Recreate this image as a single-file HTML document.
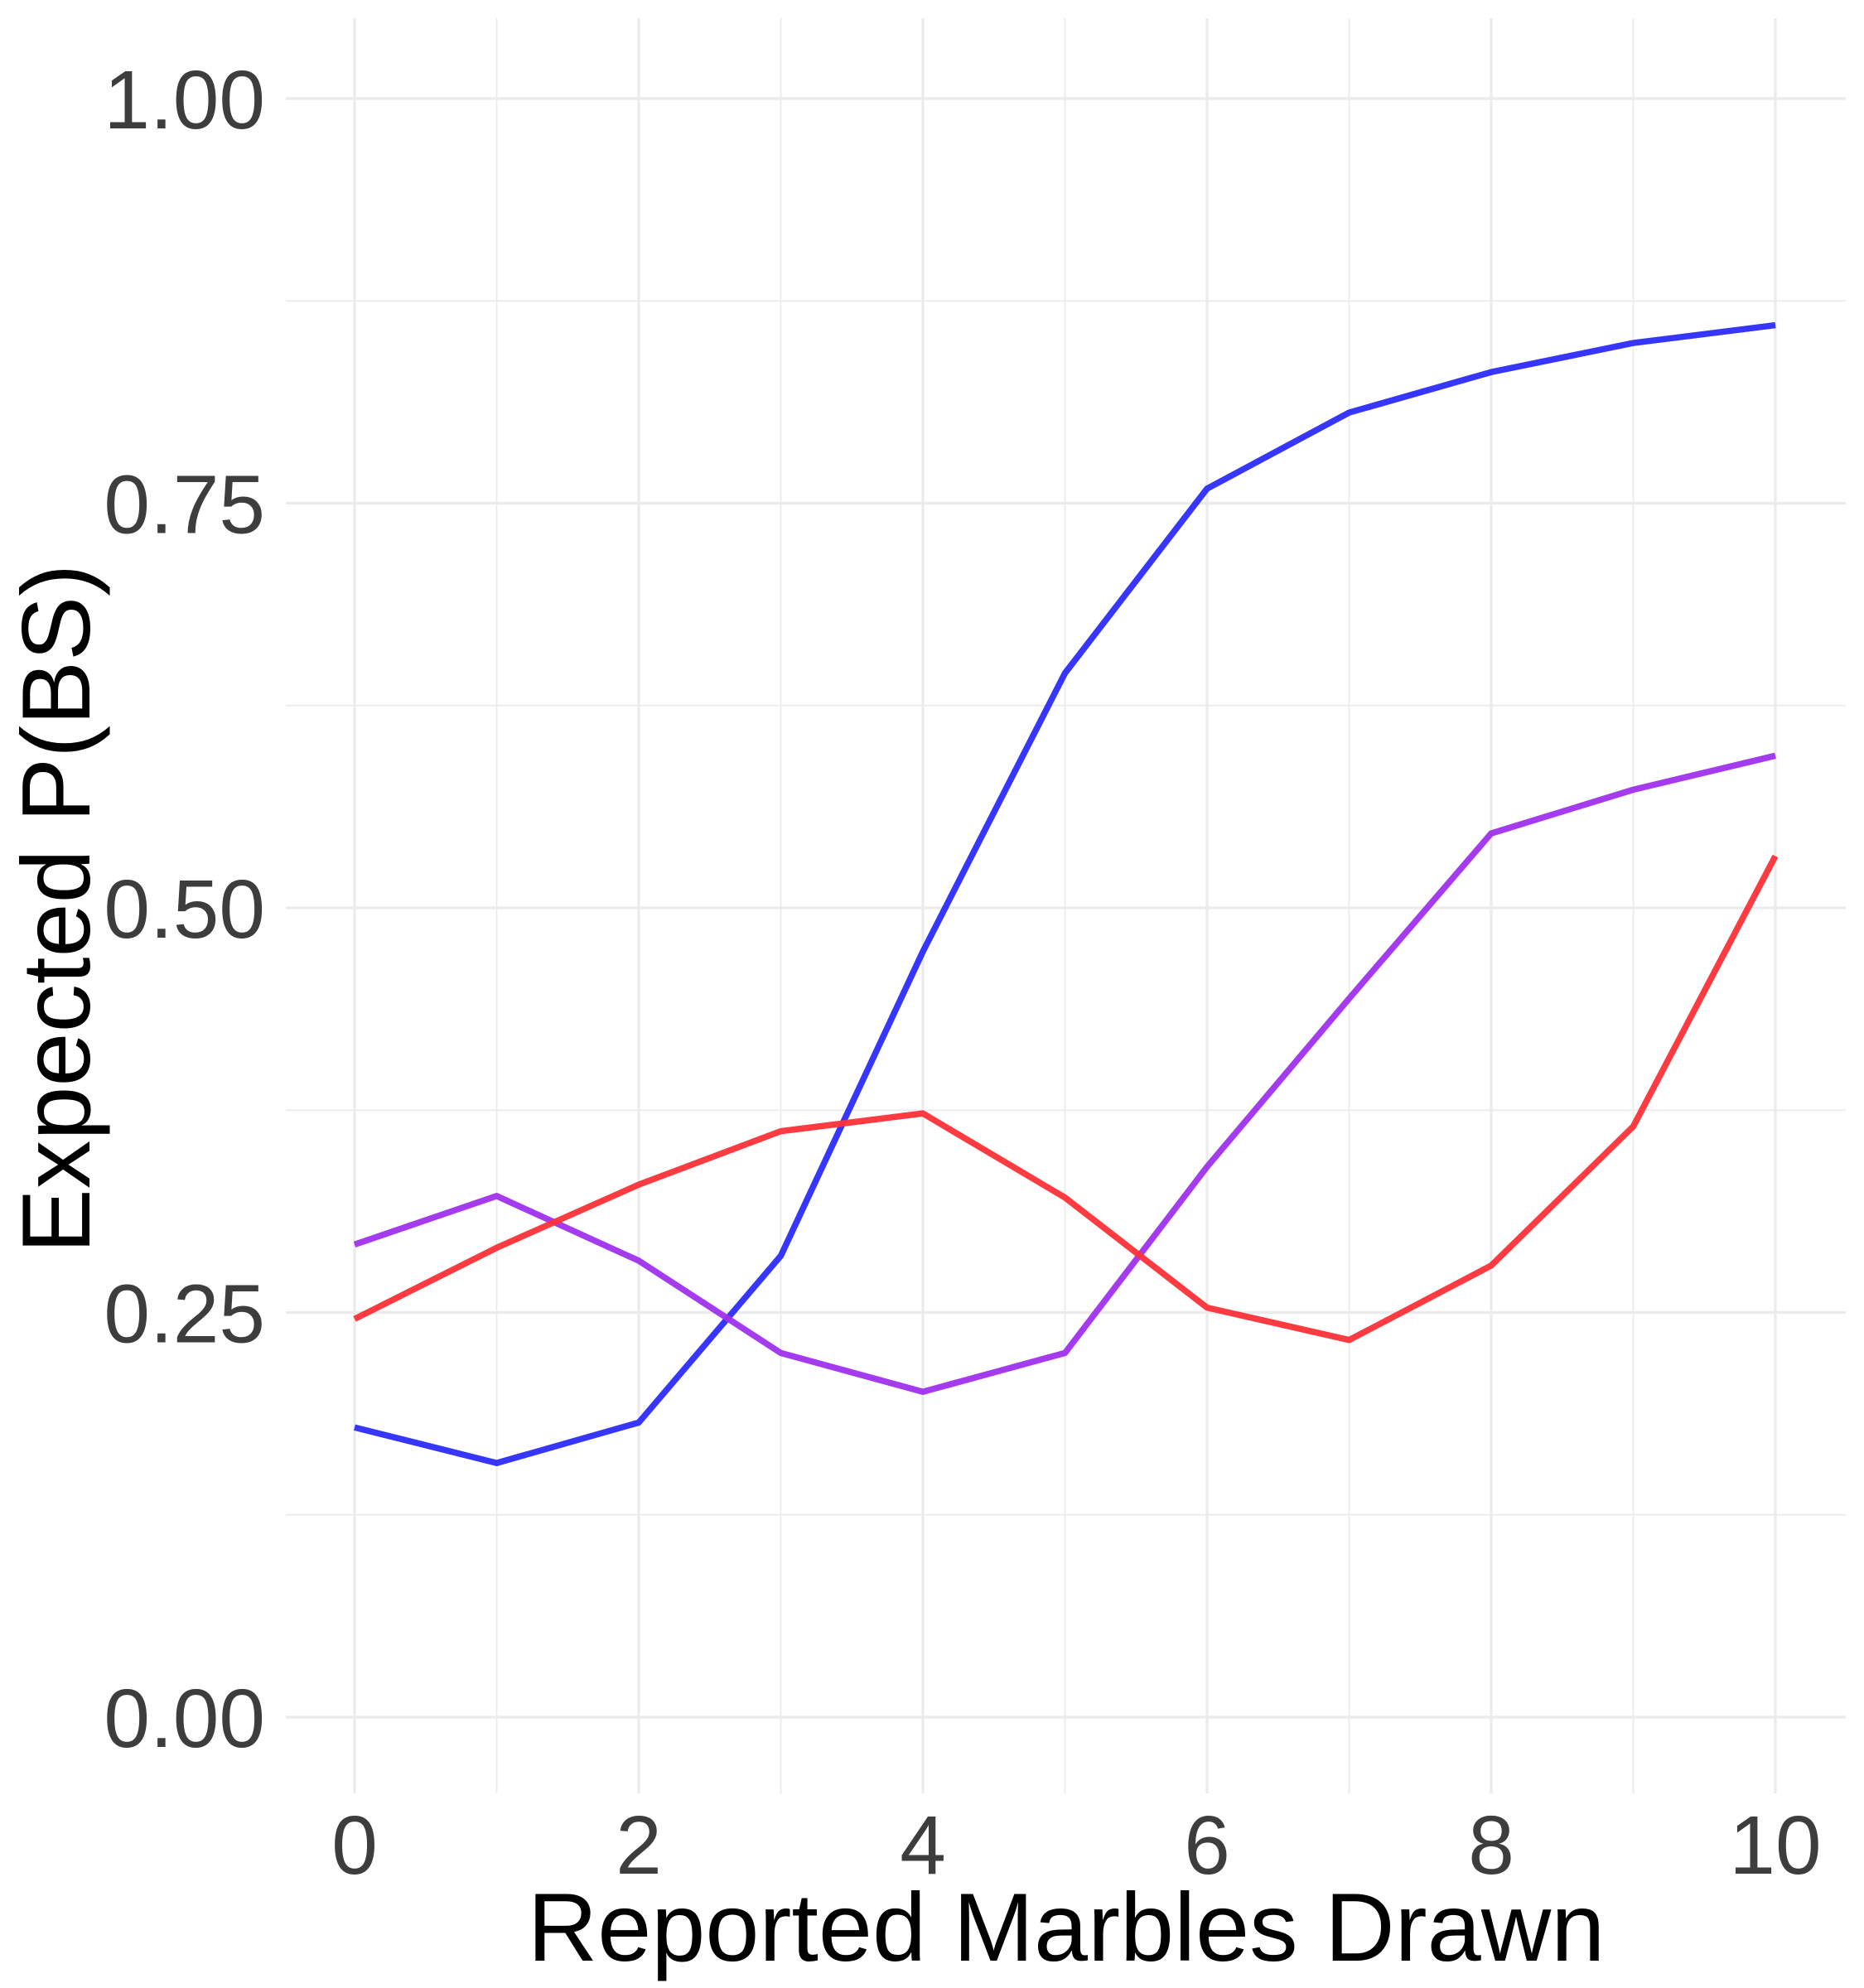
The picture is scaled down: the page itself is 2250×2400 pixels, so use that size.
<!DOCTYPE html>
<html><head><meta charset="utf-8"><style>
html,body{margin:0;padding:0;background:#fff;}
svg{display:block;font-family:"Liberation Sans",sans-serif;}
</style></head><body>
<svg id="chart" width="2250" height="2400" viewBox="0 0 2250 2400">
<g id="grid"></g>
<g id="series"></g>
<g id="yticks"></g>
<g id="xticks"></g>
<text x="1287" y="2367" font-size="117" text-anchor="middle" fill="#000">Reported Marbles Drawn</text>
<text transform="translate(108,1097) rotate(-90)" font-size="117" text-anchor="middle" fill="#000">Expected P(BS)</text>
</svg>
<script>
const xs = [0,1,2,3,4,5,6,7,8,9,10];
const blueVals = [0.179,0.157,0.182,0.285,0.473,0.645,0.759,0.806,0.831,0.849,0.860];
const purpleVals = [0.292,0.322,0.282,0.225,0.201,0.225,0.340,0.444,0.546,0.573,0.594];
const redVals = [0.246,0.290,0.329,0.362,0.373,0.321,0.253,0.233,0.279,0.365,0.532];
const yTickVals = [0,0.25,0.5,0.75,1];
const yTickLabels = ["0.00","0.25","0.50","0.75","1.00"];
const xTickVals = [0,2,4,6,8,10];
const xTickLabels = ["0","2","4","6","8","10"];

const NS = "http://www.w3.org/2000/svg";
const X0 = 428, X1 = 2143, Y0 = 2073, Y1 = 119;
const panelL = 345, panelR = 2228, panelT = 22, panelB = 2165;
function sx(v){ return X0 + (X1 - X0) * v / 10; }
function sy(v){ return Y0 + (Y1 - Y0) * v; }
function mk(tag, attrs, parent){
  const el = document.createElementNS(NS, tag);
  for (const k in attrs) el.setAttribute(k, attrs[k]);
  parent.appendChild(el);
  return el;
}
const grid = document.getElementById('grid');
for (let v = 0; v <= 10; v++) {
  const l = mk('line', {x1:sx(v), x2:sx(v), y1:panelT, y2:panelB, stroke:'#ebebeb', 'stroke-width': v%2===0?3.2:1.8}, grid);
  
  
}
for (let i = 0; i < 9; i++) {
  const v = i * 0.125;
  const l = mk('line', {x1:panelL, x2:panelR, y1:sy(v), y2:sy(v), stroke:'#ebebeb', 'stroke-width': i%2===0?3.2:1.8}, grid);
  
  
}
const yt = document.getElementById('yticks');
yTickVals.forEach((v, i) => {
  const t = mk('text', {x:320, y:sy(v)+36, 'font-size':100, 'text-anchor':'end', fill:'#3d3d3d'}, yt);
  t.textContent = yTickLabels[i];
  
  
});
const xt = document.getElementById('xticks');
xTickVals.forEach((v, i) => {
  const t = mk('text', {x:sx(v), y:2262, 'font-size':100, 'text-anchor':'middle', fill:'#3d3d3d'}, xt);
  t.textContent = xTickLabels[i];
  
  
});
const sg = document.getElementById('series');
[[blueVals,'#2b2bff','blue-line'],[purpleVals,'#a030ee','purple-line'],[redVals,'#ff3038','red-line']].forEach(s => {
  const pts = xs.map((x, i) => sx(x) + ',' + sy(s[0][i])).join(' ');
  const p = mk('polyline', {points:pts, fill:'none', stroke:s[1], 'stroke-width':7.5, 'stroke-linejoin':'round', opacity:0.95}, sg);
  
  
});
</script>
</body></html>
